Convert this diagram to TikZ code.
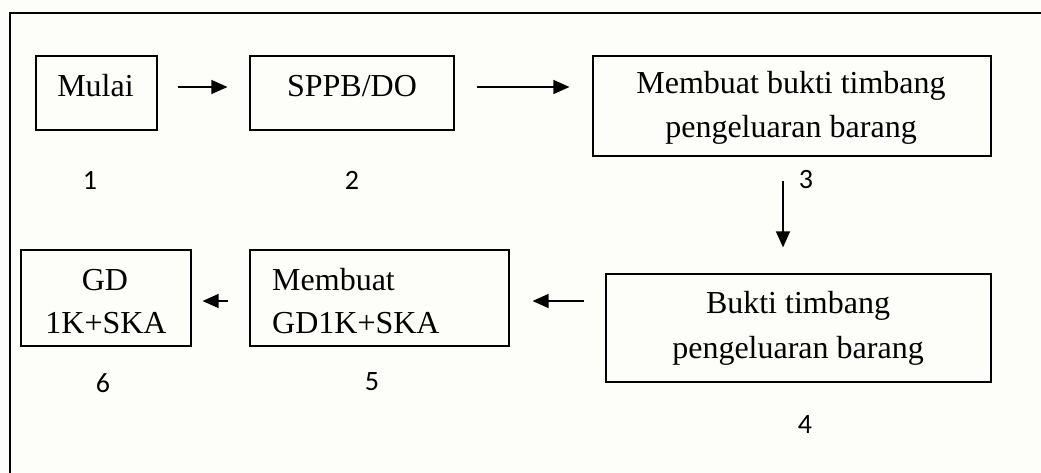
\documentclass[tikz,border=0pt]{standalone}
\usepackage{fontspec}
\setmainfont{Liberation Serif}
\newfontfamily\numfont{Carlito}
\usetikzlibrary{arrows.meta,calc}
\definecolor{bgc}{RGB}{253,253,249}
\tikzset{
  boxnode/.style={draw=black,line width=1.2pt,inner sep=0pt,minimum width=#1},
  txt/.style={font=\fontsize{32}{44}\selectfont,inner sep=0pt,anchor=base},
  num/.style={font=\numfont\fontsize{28}{32}\selectfont,inner sep=0pt},
  arr/.style={line width=1.3pt,-{Triangle[length=16pt,width=14pt]}}
}
\begin{document}
\begin{tikzpicture}[x=1pt,y=-1pt]
\fill[bgc] (0,0) rectangle (1041,473);
\useasboundingbox (0,0) rectangle (1041,473);
\draw[line width=1.3pt] (1041,13) -- (10,13) -- (10,473);
% boxes
\node[boxnode=121pt,minimum height=74pt] (b1) at (96.5,93) {};
\node[boxnode=204pt,minimum height=74pt] (b2) at (352,93) {};
\node[boxnode=398pt,minimum height=100pt] (b3) at (792,106) {};
\node[boxnode=385pt,minimum height=108pt] (b4) at (798.5,328) {};
\node[boxnode=259pt,minimum height=96pt] (b5) at (379.5,298) {};
\node[boxnode=170pt,minimum height=96pt] (b6) at (106,298) {};
% texts
\node[txt] (t1) at (95.5,97) {Mulai};
\node[txt] (t2) at (352,97) {SPPB/DO};
\node[txt] (t3a) at (791,94) {Membuat bukti timbang};
\node[txt] (t3b) at (791,138) {pengeluaran barang};
\node[txt] (t4a) at (798,313) {Bukti timbang};
\node[txt] (t4b) at (798,358) {pengeluaran barang};
\node[txt,anchor=base west] (t5a) at (272,290) {Membuat};
\node[txt,anchor=base west] (t5b) at (272,333) {GD1K+SKA};
\node[txt] (t6a) at (105,290) {GD};
\node[txt] (t6b) at (106,333) {1K+SKA};
% numbers
\node[num] (n1) at (90,180) {1};
\node[num] (n2) at (352,180) {2};
\node[num] (n3) at (806,180) {3};
\node[num] (n4) at (805,425) {4};
\node[num] (n5) at (372,382) {5};
\node[num] (n6) at (103,383) {6};
% arrows
\draw[arr] ([xshift=20pt,yshift=6pt]b1.east) coordinate (p1) -- ($(p1 -| b2.west)+(-22pt,0)$);
\draw[arr] ([xshift=22pt,yshift=6pt]b2.east) coordinate (p2) -- ($(p2 -| b3.west)+(-23pt,0)$);
\draw[arr] ([xshift=-9pt,yshift=-24pt]b3.south) coordinate (p3) -- ($(p3 |- b4.north)+(0,26pt)$);
\draw[arr] ([xshift=-21pt,yshift=-3pt]b4.west |- b5.east) coordinate (p4) -- ($(p4 -| b5.east)+(23pt,0)$);
\draw[arr] ([xshift=-21pt,yshift=-3pt]b5.west) coordinate (p5) -- ($(p5 -| b6.east)+(11pt,0)$);
\end{tikzpicture}
\end{document}
